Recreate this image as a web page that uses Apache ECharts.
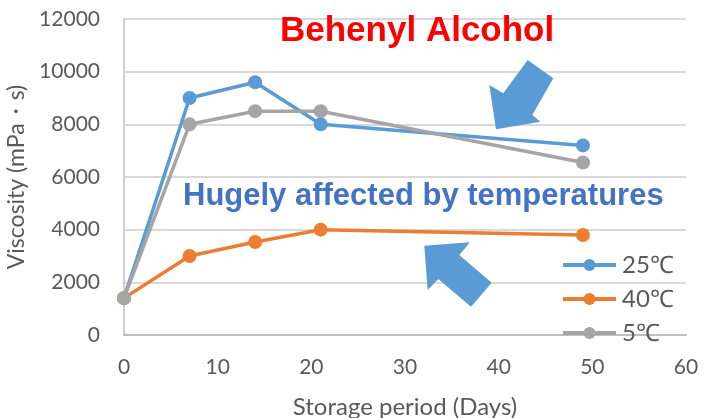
<!DOCTYPE html>
<html>
<head>
<meta charset="utf-8">
<script src="https://cdn.jsdelivr.net/npm/echarts@6/dist/echarts.min.js"></script>
<style>
  html, body { margin: 0; padding: 0; background: #fff; }
  #chart { width: 712px; height: 418px; }
</style>
</head>
<body>
<div id="chart"></div>
<script>
(function () {
    // storage days and viscosity readings (mPa·s)
    const days = [0, 7, 14, 21, 49];
    const visc25 = [1400, 9000, 9600, 8000, 7200];
    const visc40 = [1400, 3000, 3530, 4000, 3800];
    const visc5 = [1400, 8000, 8500, 8500, 6550];
    const seriesNames = ['25℃', '40℃', '5℃'];
    const colors = ['#5B9BD5', '#ED7D31', '#A5A5A5'];

    const font = 'Lato, "Open Sans", sans-serif';

    function pairs(vals) {
        return days.map(function (d, i) { return [d, vals[i]]; });
    }

    function lineSeries(name, vals, color) {
        return {
            name: name,
            type: 'line',
            data: pairs(vals),
            symbol: 'circle',
            symbolSize: 14,
            lineStyle: { width: 3.5, color: color },
            itemStyle: { color: color },
            emphasis: { disabled: true },
            animation: false
        };
    }

    const option = {
        backgroundColor: '#fff',
        color: colors,
        grid: { left: 124, right: 26, top: 19, bottom: 83, outerBoundsMode: 'none' },
        legend: {
            orient: 'vertical',
            left: 561,
            top: 253,
            padding: 0,
            itemWidth: 53,
            itemHeight: 15,
            itemGap: 10,
            lineStyle: { width: 4 },
            textStyle: { fontSize: 24, color: '#595959', fontFamily: font, padding: [0, 0, 0, 1] },
            data: seriesNames
        },
        xAxis: {
            type: 'value',
            min: 0,
            max: 60,
            interval: 10,
            name: 'Storage period (Days)',
            nameLocation: 'middle',
            nameGap: 60,
            nameTextStyle: { fontSize: 24, color: '#595959', fontFamily: font },
            axisLine: { show: true, lineStyle: { color: '#BFBFBF', width: 2 } },
            axisTick: { show: false },
            splitLine: { show: false },
            axisLabel: { fontSize: 21, color: '#595959', fontFamily: font, margin: 22 }
        },
        yAxis: {
            type: 'value',
            min: 0,
            max: 12000,
            interval: 2000,
            name: 'Viscosity (mPa・s)',
            nameLocation: 'middle',
            nameGap: 82,
            nameTextStyle: { fontSize: 23, color: '#595959', fontFamily: font },
            axisLine: { show: true, lineStyle: { color: '#D0D0D0', width: 2 } },
            axisTick: { show: false },
            splitLine: { lineStyle: { color: '#D9D9D9', width: 2 } },
            axisLabel: {
                fontSize: 21, color: '#595959', fontFamily: font, margin: 24,
                formatter: function (v) { return String(v); }
            }
        },
        graphic: [
            {
                type: 'text',
                left: 280,
                top: 14,
                style: {
                    text: 'Behenyl Alcohol',
                    fill: '#FF0000',
                    font: 'bold 35px "Liberation Sans", Arial, sans-serif'
                },
                z: 10
            },
            {
                type: 'text',
                left: 183,
                top: 181,
                style: {
                    text: 'Hugely affected by temperatures',
                    fill: '#4472C4',
                    font: 'bold 31px "Liberation Sans", Arial, sans-serif'
                },
                z: 10
            },
            {
                type: 'polygon',
                shape: {
                    points: [[527.7, 60], [553.3, 78.3], [532.3, 115], [540.3, 121.7],
                        [496, 129.3], [489.3, 85], [503.3, 93.3]]
                },
                style: { fill: '#5B9BD5' },
                z: 10
            },
            {
                type: 'polygon',
                shape: {
                    points: [[424.3, 245.7], [470, 242.3], [459.3, 255], [491.7, 282.7],
                        [471, 306.7], [438.3, 279], [427.7, 290]]
                },
                style: { fill: '#5B9BD5' },
                z: 10
            }
        ],
        series: [
            lineSeries(seriesNames[0], visc25, colors[0]),
            lineSeries(seriesNames[1], visc40, colors[1]),
            lineSeries(seriesNames[2], visc5, colors[2])
        ]
    };

    const myChart = echarts.init(document.getElementById('chart'));
    myChart.setOption(option);
}());
</script>
</body>
</html>
